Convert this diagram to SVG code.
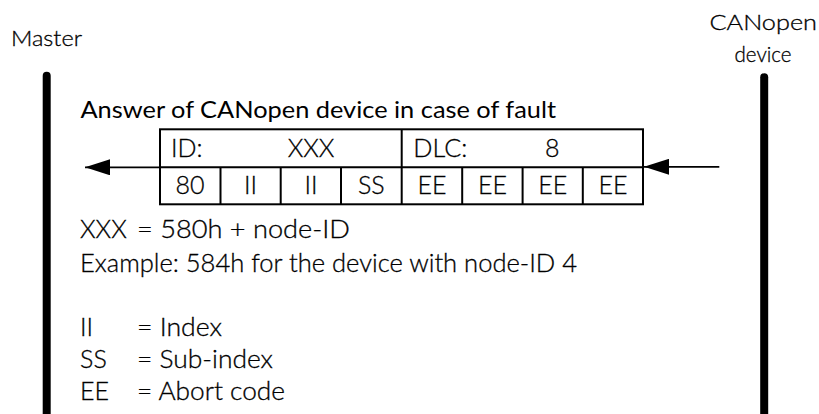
<svg xmlns="http://www.w3.org/2000/svg" width="819" height="414" viewBox="0 0 819 414">
<style>
  text { font-family: Lato, "Liberation Sans", sans-serif; font-weight: 300; fill: #000; stroke: #000; stroke-width: 0.3px; }
  .lbl { font-size: 21px; }
  .title { font-size: 23.5px; font-weight: 400; stroke-width: 0; }
  .cell { font-size: 25px; }
  .mid { text-anchor: middle; }
  .body { font-size: 25px; }
  .grid { fill: none; stroke: #000; stroke-width: 2; }
  .life { stroke: #000; stroke-width: 8; stroke-linecap: round; }
  .conn { stroke: #000; stroke-width: 1.8; fill: none; }
</style>
<defs>
  <marker id="ah" markerUnits="userSpaceOnUse" viewBox="0 0 25 16" refX="25" refY="8" markerWidth="25" markerHeight="16" orient="auto">
    <path d="M0,0 L25,8 L0,16 z" fill="#000"/>
  </marker>
</defs>
<rect width="819" height="414" fill="#fff"/>

<g id="master">
  <text class="lbl" x="11" y="45.7" textLength="71" lengthAdjust="spacingAndGlyphs">Master</text>
  <line class="life" x1="46.7" y1="75.7" x2="46.7" y2="430"/>
</g>

<g id="device">
  <text class="lbl" x="709.5" y="30" textLength="107.5" lengthAdjust="spacingAndGlyphs">CANopen</text>
  <text class="lbl" x="734.5" y="61.7" textLength="57" lengthAdjust="spacingAndGlyphs">device</text>
  <line class="life" x1="764.2" y1="77.3" x2="764.2" y2="430"/>
</g>

<g id="frame">
  <text class="title" x="80.5" y="118.3" textLength="475.5" lengthAdjust="spacingAndGlyphs">Answer of CANopen device in case of fault</text>
  <rect class="grid" x="160" y="129.3" width="483" height="75"/>
  <path class="grid" d="M160,167.3 H643 M401.7,129.3 V204.3 M220.5,167.3 V204.3 M280.7,167.3 V204.3 M341,167.3 V204.3 M462.2,167.3 V204.3 M522.6,167.3 V204.3 M582.8,167.3 V204.3"/>
  <text class="cell" x="171" y="156.7">ID:</text>
  <text class="cell mid" x="311" y="156.7">XXX</text>
  <text class="cell" x="413.3" y="156.7" textLength="54" lengthAdjust="spacingAndGlyphs">DLC:</text>
  <text class="cell mid" x="552.3" y="156.7">8</text>
  <text class="cell mid" x="190" y="193.6">80</text>
  <text class="cell mid" x="250.6" y="193.6">II</text>
  <text class="cell mid" x="310.9" y="193.6">II</text>
  <text class="cell mid" x="371.3" y="193.6">SS</text>
  <text class="cell mid" x="432" y="193.6">EE</text>
  <text class="cell mid" x="492.4" y="193.6">EE</text>
  <text class="cell mid" x="552.7" y="193.6">EE</text>
  <text class="cell mid" x="612.9" y="193.6">EE</text>
</g>

<g id="notes">
  <text class="body" x="80" y="238.3">XXX</text>
  <text class="body" x="137" y="238.3" textLength="213" lengthAdjust="spacingAndGlyphs">= 580h + node-ID</text>
  <text class="body" x="80" y="271.5" textLength="497" lengthAdjust="spacingAndGlyphs">Example: 584h for the device with node-ID 4</text>
  <text class="body" x="80" y="336">II</text>
  <text class="body" x="137" y="336" textLength="85" lengthAdjust="spacingAndGlyphs">= Index</text>
  <text class="body" x="80" y="367.7">SS</text>
  <text class="body" x="137" y="367.7" textLength="136" lengthAdjust="spacingAndGlyphs">= Sub-index</text>
  <text class="body" x="80" y="399.5">EE</text>
  <text class="body" x="137" y="399.5" textLength="148" lengthAdjust="spacingAndGlyphs">= Abort code</text>
</g>

<g id="connectors">
  <line class="conn" x1="160" y1="167.3" x2="85" y2="167.3" marker-end="url(#ah)"/>
  <line class="conn" x1="719.3" y1="166.8" x2="644" y2="166.8" marker-end="url(#ah)"/>
</g>
</svg>
